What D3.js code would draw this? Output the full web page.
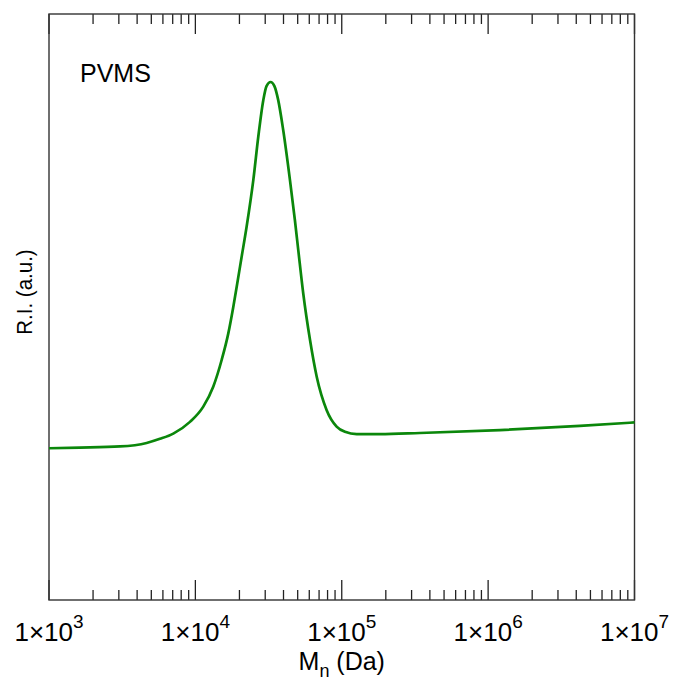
<!DOCTYPE html>
<html><head><meta charset="utf-8">
<script src="https://cdn.jsdelivr.net/npm/d3@7"></script>
<style>body{margin:0;background:#fff}svg{display:block}text{font-family:"Liberation Sans",Arial,sans-serif;fill:#000}</style>
</head><body>
<svg id="c" width="674" height="681"></svg>
<script>
const mn = [1000,1629,3055,4645,5728,7063,9183,11324,13243,15136,16788,18155,19320,20654,22387,24889,26915,29107,30620,32659,34674,36813,39811,44259,47863,50466,54576,60674,67453,78886,92257,105196,126474,182390,341979,1205036,4236200,10000000];
const ri = [0.259,0.260,0.262,0.268,0.275,0.284,0.304,0.330,0.364,0.410,0.455,0.500,0.540,0.584,0.637,0.717,0.791,0.853,0.877,0.884,0.877,0.853,0.802,0.717,0.648,0.597,0.523,0.444,0.381,0.324,0.296,0.287,0.283,0.283,0.285,0.290,0.297,0.303];
const tickExps = [3,4,5,6,7];
const seriesName = "PVMS";
const xTitle = "M", xSub = "n", xUnit = " (Da)";
const yTitle = "R.I. (a.u.)";

const L=49,R=634.5,T=14,B=600;
const svg=d3.select("#c");
const x=d3.scaleLog().domain([1e3,1e7]).range([L,R]);
const y=d3.scaleLinear().domain([0,1]).range([B,T]);

const minor=[];
for(let e=3;e<7;e++) for(let k=2;k<=9;k++) minor.push(k*Math.pow(10,e));
const major=tickExps.map(e=>Math.pow(10,e));
const tg=svg.append("g").attr("stroke","#222").attr("stroke-width",1.3);
[[B,-1],[T,1]].forEach(([yy,d])=>{
  tg.selectAll(null).data(minor).enter().append("line")
    .attr("x1",v=>x(v)).attr("x2",v=>x(v)).attr("y1",yy).attr("y2",yy+d*10);
  tg.selectAll(null).data(major).enter().append("line")
    .attr("x1",v=>x(v)).attr("x2",v=>x(v)).attr("y1",yy).attr("y2",yy+d*20);
});
svg.append("rect").attr("x",L).attr("y",T).attr("width",R-L).attr("height",B-T)
  .attr("fill","none").attr("stroke","#333").attr("stroke-width",1.4);

const lab=svg.append("g");
tickExps.forEach(e=>{
  const t=lab.append("text").attr("x",x(Math.pow(10,e))).attr("y",641)
    .attr("text-anchor","middle").style("font-size","26px");
  t.append("tspan").text("1\u00d710");
  t.append("tspan").attr("dy",-13).style("font-size","19px").text(e);
});

const line=d3.line().x((d,i)=>x(mn[i])).y((d,i)=>y(ri[i])).curve(d3.curveMonotoneX);
svg.append("path").datum(mn).attr("d",line).attr("fill","none")
  .attr("stroke","#0b870b").attr("stroke-width",2.7);

const xt=svg.append("text").attr("x",(L+R)/2).attr("y",670)
  .attr("text-anchor","middle").style("font-size","25px");
xt.append("tspan").text(xTitle);
xt.append("tspan").attr("dy",7).style("font-size","18px").text(xSub);
xt.append("tspan").attr("dy",-7).text(xUnit);
svg.append("text").attr("transform","translate(32,292) rotate(-90) scale(1,1.12)").attr("text-anchor","middle")
  .style("font-size","20.5px").text(yTitle);
svg.append("text").attr("x",80).attr("y",82).style("font-size","25px").text(seriesName);
</script>
</body></html>
